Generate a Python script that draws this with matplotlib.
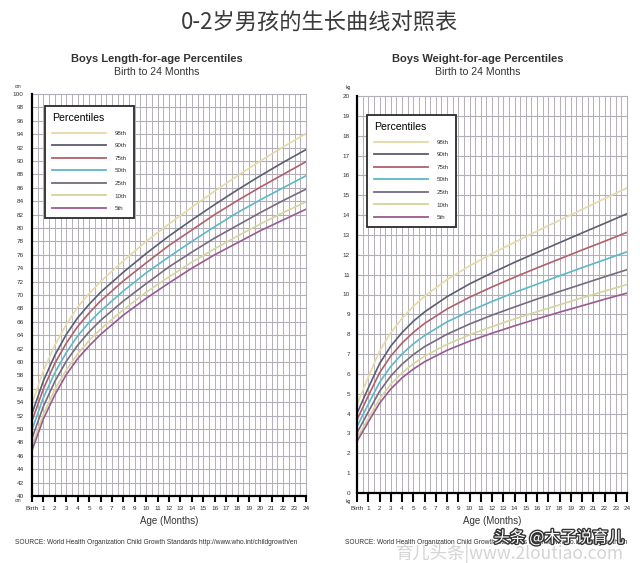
import matplotlib
matplotlib.use("Agg")
import matplotlib.pyplot as plt
import matplotlib.patheffects as pe

plt.rcParams["font.family"] = ["Liberation Sans", "DejaVu Sans"]

months = [0, 1, 2, 3, 4, 5, 6, 8, 10, 12, 14, 16, 18, 20, 22, 24]
percentile_labels = ["98th", "90th", "75th", "50th", "25th", "10th", "5th"]
percentile_colors = ["#e6d9a6", "#5b5d70", "#b0606a", "#5cb8c8", "#756a80", "#d6d49c", "#9a5a90"]

# length (cm)
length_p98 = [53.8, 58.7, 62.5, 65.6, 68.2, 70.2, 72.0, 75.1, 78.0, 80.6, 83.1, 85.5, 87.8, 90.0, 92.1, 94.1]
length_p90 = [52.3, 57.2, 61.0, 64.1, 66.6, 68.6, 70.4, 73.4, 76.2, 78.8, 81.2, 83.5, 85.7, 87.8, 89.8, 91.7]
length_p75 = [51.2, 56.0, 59.8, 62.8, 65.3, 67.3, 69.1, 72.1, 74.8, 77.4, 79.7, 82.0, 84.1, 86.1, 88.0, 89.9]
length_p50 = [49.9, 54.7, 58.4, 61.4, 63.9, 65.9, 67.6, 70.6, 73.3, 75.7, 78.0, 80.2, 82.3, 84.2, 86.0, 87.8]
length_p25 = [48.6, 53.4, 57.1, 60.1, 62.5, 64.5, 66.2, 69.1, 71.7, 74.2, 76.4, 78.5, 80.4, 82.3, 84.1, 85.8]
length_p10 = [47.5, 52.2, 55.9, 58.8, 61.2, 63.2, 64.9, 67.8, 70.4, 72.7, 74.9, 76.9, 78.8, 80.6, 82.3, 83.9]
length_p5 = [46.8, 51.5, 55.1, 58.1, 60.5, 62.4, 64.1, 67.0, 69.5, 71.8, 74.0, 76.0, 77.8, 79.6, 81.2, 82.8]

# weight (kg)
weight_p98 = [4.45, 5.84, 7.14, 8.07, 8.80, 9.40, 9.91, 10.75, 11.44, 12.06, 12.63, 13.19, 13.74, 14.28, 14.83, 15.37]
weight_p90 = [4.01, 5.29, 6.51, 7.40, 8.08, 8.65, 9.12, 9.89, 10.53, 11.09, 11.62, 12.12, 12.61, 13.10, 13.58, 14.07]
weight_p75 = [3.69, 4.89, 6.05, 6.90, 7.55, 8.09, 8.54, 9.27, 9.86, 10.38, 10.87, 11.34, 11.79, 12.24, 12.68, 13.13]
weight_p50 = [3.35, 4.47, 5.57, 6.38, 7.00, 7.51, 7.93, 8.62, 9.16, 9.65, 10.10, 10.52, 10.94, 11.35, 11.75, 12.15]
weight_p25 = [3.03, 4.08, 5.12, 5.89, 6.49, 6.97, 7.37, 8.00, 8.51, 8.96, 9.37, 9.77, 10.15, 10.52, 10.89, 11.25]
weight_p10 = [2.76, 3.75, 4.74, 5.48, 6.05, 6.51, 6.89, 7.49, 7.97, 8.38, 8.77, 9.13, 9.48, 9.83, 10.17, 10.50]
weight_p5 = [2.60, 3.57, 4.52, 5.24, 5.80, 6.24, 6.61, 7.19, 7.65, 8.05, 8.42, 8.77, 9.11, 9.43, 9.76, 10.07]

x_tick_labels = ["Birth"] + [str(m) for m in range(1, 25)]

GRID = "#b4aebb"
TEXT = "#333333"
W, H = 640, 563


def px(x, y):
    return x / W, 1 - y / H


def draw_chart(ax, series, ymin, ymax, ystep, tick_len, legend_anchor):
    for values, label, color in zip(series, percentile_labels, percentile_colors):
        ax.plot(months, values, color=color, lw=1.2, label=label, zorder=3)

    ax.set_xlim(0, 24)
    ax.set_ylim(ymin, ymax)
    # half month vertical grid, one line per y label
    for m in range(1, 48):
        ax.axvline(m / 2, color=GRID, lw=0.7, zorder=1)
    for v in range(ymin + ystep, ymax, ystep):
        ax.axhline(v, color=GRID, lw=0.8, zorder=1)

    ax.set_xticks(range(25))
    ax.set_xticklabels(x_tick_labels, fontsize=4.6, color=TEXT)
    ax.set_yticks(range(ymin, ymax + 1, ystep))
    ax.set_yticklabels([str(v) for v in range(ymin, ymax + 1, ystep)], fontsize=4.6, color=TEXT)
    ax.tick_params(axis="x", direction="out", length=tick_len, width=1.5, color="black", pad=2.5)
    ax.tick_params(axis="y", length=0, pad=6 if ymax > 50 else 5)

    for side in ["left", "bottom"]:
        ax.spines[side].set_linewidth(1.6)
        ax.spines[side].set_color("black")
        ax.spines[side].set_zorder(4)
    for side in ["top", "right"]:
        ax.spines[side].set_linewidth(0.8)
        ax.spines[side].set_color(GRID)

    ax.set_xlabel("Age (Months)", fontsize=7, color=TEXT, labelpad=4)

    leg = ax.legend(loc="upper left", bbox_to_anchor=legend_anchor, title="Percentiles",
                    title_fontsize=7.6, fontsize=4.5, alignment="left", handlelength=8.6,
                    handletextpad=1.4, labelspacing=1.15, borderpad=1.15, fancybox=False,
                    framealpha=1, edgecolor="#2a2a2a", borderaxespad=0)
    leg.get_frame().set_linewidth(1.3)
    for line in leg.get_lines():
        line.set_linewidth(1.3)
    for t in leg.get_texts():
        t.set_color(TEXT)
    leg.set_zorder(5)


fig = plt.figure(figsize=(6.4, 5.63), dpi=100)
fig.patch.set_facecolor("white")

ax1 = fig.add_axes([32 / W, 1 - 496 / H, 274 / W, 402 / H])
ax2 = fig.add_axes([357 / W, 1 - 493 / H, 270 / W, 397 / H])

draw_chart(ax1, [length_p98, length_p90, length_p75, length_p50, length_p25, length_p10, length_p5],
           40, 100, 2, 4.5, (0.047, 0.97))
draw_chart(ax2, [weight_p98, weight_p90, weight_p75, weight_p50, weight_p25, weight_p10, weight_p5],
           0, 20, 1, 6.5, (0.037, 0.952))

# main title
fig.text(*px(320, 23), "0-2岁男孩的生长曲线对照表", ha="center", va="center", fontsize=16,
         color="#3a3a3a", family=["Noto Sans CJK SC", "DejaVu Sans"])

# chart titles
fig.text(*px(157, 59), "Boys Length-for-age Percentiles", ha="center", va="center",
         fontsize=8, fontweight="bold", color=TEXT)
fig.text(*px(157, 72), "Birth to 24 Months", ha="center", va="center", fontsize=7.6, color=TEXT)
fig.text(*px(478, 59), "Boys Weight-for-age Percentiles", ha="center", va="center",
         fontsize=8, fontweight="bold", color=TEXT)
fig.text(*px(478, 72), "Birth to 24 Months", ha="center", va="center", fontsize=7.6, color=TEXT)

# units
fig.text(*px(18, 86), "cm", ha="center", va="center", fontsize=3.6, color=TEXT)
fig.text(*px(18, 501), "cm", ha="center", va="center", fontsize=3.6, color=TEXT)
fig.text(*px(348, 87), "kg", ha="center", va="center", fontsize=3.6, color=TEXT)
fig.text(*px(348, 501), "kg", ha="center", va="center", fontsize=3.6, color=TEXT)

source = "SOURCE: World Health Organization Child Growth Standards http://www.who.int/childgrowth/en"
fig.text(*px(15, 543), source, ha="left", va="center", fontsize=4.8, color=TEXT)
fig.text(*px(345, 543), source, ha="left", va="center", fontsize=4.8, color=TEXT)

# watermarks
fig.text(*px(559, 538), "头条 @木子说育儿", ha="center", va="center", fontsize=11.5, color="white",
         family=["Noto Sans CJK SC", "DejaVu Sans"],
         path_effects=[pe.withStroke(linewidth=2, foreground="#333333")], zorder=10)
fig.text(*px(510, 554), "育儿头条|www.2loutiao.com", ha="center", va="center", fontsize=12.5,
         color="#d4d4d4", family=["Noto Sans CJK SC", "DejaVu Sans"], zorder=10)

fig.savefig("out.png", dpi=100, facecolor="white")
